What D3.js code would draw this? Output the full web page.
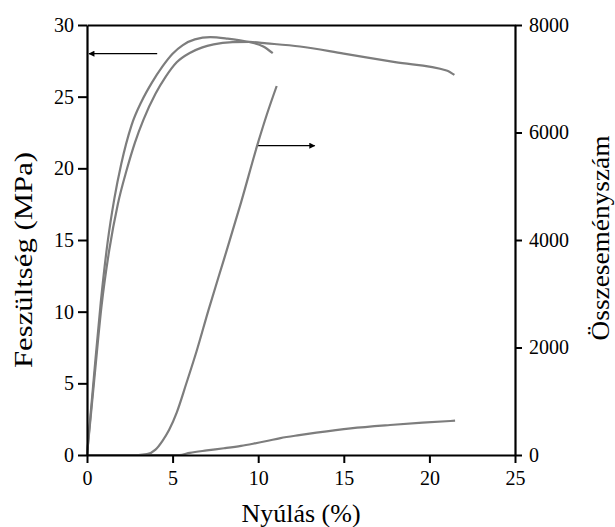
<!DOCTYPE html>
<html>
<head>
<meta charset="utf-8">
<script src="https://cdn.jsdelivr.net/npm/d3@7"></script>
<style>
  body { margin: 0; background: #fff; }
  svg text { font-family: "Liberation Serif", "Times New Roman", serif; fill: #000; }
</style>
</head>
<body>
<div id="chart"></div>
<script>
// stress-strain curves (left axis) and cumulative event count (right axis)

// strain (%) / stress (MPa) - sample ending at ~11 %
const stressA = [
  [0, 0], [0.4, 5.4], [0.8, 10.6], [1.2, 14.8], [1.6, 17.9], [2.0, 20.3],
  [2.6, 23.0], [3.2, 24.7], [3.8, 26.0], [4.4, 27.1], [5.0, 28.0],
  [5.6, 28.6], [6.3, 29.0], [7.2, 29.15], [8.2, 29.05], [9.3, 28.85],
  [10.3, 28.5], [10.85, 28.03]
];

// strain (%) / stress (MPa) - sample ending at ~21.5 %
const stressB = [
  [0, 0], [0.42, 5.2], [0.85, 10.4], [1.3, 14.3], [1.8, 17.5], [2.32, 19.9],
  [2.8, 21.8], [3.3, 23.4], [4.0, 25.2], [4.6, 26.4], [5.24, 27.4],
  [6.0, 28.05], [6.7, 28.42], [7.4, 28.65], [8.5, 28.8], [9.5, 28.82],
  [10.5, 28.72], [12.44, 28.5], [15, 28.0], [18, 27.41], [21, 26.83],
  [21.46, 26.52]
];

// strain (%) / cumulative event count - steep curve
const countA = [
  [0, 0], [3.0, 0], [3.5, 15], [4.0, 100], [4.4, 260], [4.8, 470],
  [5.24, 790], [5.8, 1330], [6.4, 1930], [7.1, 2700], [8.0, 3640],
  [9.0, 4700], [10.0, 5820], [10.5, 6330], [11.08, 6865]
];

// strain (%) / cumulative event count - slow curve
const countB = [
  [0, 0], [5.4, 0], [6.0, 40], [7.0, 85], [8.0, 125], [9.0, 170], [9.7, 210],
  [10.5, 260], [11.3, 315], [12.4, 370], [13.4, 415], [15.4, 495],
  [17.7, 558], [19.6, 601], [21.5, 638]
];

const xTicks = [0, 5, 10, 15, 20, 25];
const yTicks = [0, 5, 10, 15, 20, 25, 30];
const countTicks = [0, 2000, 4000, 6000, 8000];

// annotation arrows: [x from, x to, value]
const arrowStress = [4.1, 0.12, 28];
const arrowCount = [10.0, 13.3, 5755];

const width = 615, height = 527;
const margin = { top: 25, right: 100, bottom: 72, left: 87 };

const svg = d3.select('#chart')
  .append('svg')
  .attr('width', width)
  .attr('height', height);

const x = d3.scaleLinear().domain([0, 25]).range([margin.left, width - margin.right]);
const y = d3.scaleLinear().domain([0, 30]).range([height - margin.bottom, margin.top]);
const yc = d3.scaleLinear().domain([0, 8000]).range([height - margin.bottom, margin.top]);

const curveColor = '#7d7d7d';

// curves
const lineS = d3.line().x(d => x(d[0])).y(d => y(d[1])).curve(d3.curveMonotoneX);
const lineC = d3.line().x(d => x(d[0])).y(d => yc(d[1])).curve(d3.curveMonotoneX);

svg.selectAll('path.stress')
  .data([stressA, stressB])
  .enter()
  .append('path')
  .attr('class', 'stress')
  .attr('d', lineS)
  .attr('fill', 'none')
  .attr('stroke', curveColor)
  .attr('stroke-width', 2.2);

svg.selectAll('path.count')
  .data([countA, countB])
  .enter()
  .append('path')
  .attr('class', 'count')
  .attr('d', lineC)
  .attr('fill', 'none')
  .attr('stroke', curveColor)
  .attr('stroke-width', 2.2);

// axes
const tickFont = 20;

const axL = svg.append('g')
  .attr('transform', `translate(${margin.left},0)`)
  .call(d3.axisLeft(y).tickValues(yTicks).tickSize(9).tickSizeOuter(0).tickPadding(4));

const axR = svg.append('g')
  .attr('transform', `translate(${width - margin.right},0)`)
  .call(d3.axisRight(yc).tickValues(countTicks).tickFormat(d3.format('d'))
    .tickSize(7).tickSizeOuter(0).tickPadding(7));

const axB = svg.append('g')
  .attr('transform', `translate(0,${height - margin.bottom})`)
  .call(d3.axisBottom(x).tickValues(xTicks).tickSize(8).tickSizeOuter(0).tickPadding(8));

const axT = svg.append('g')
  .attr('transform', `translate(0,${margin.top})`)
  .call(d3.axisTop(x).tickValues([]).tickSizeOuter(0));

[axL, axR, axB, axT].forEach(g => {
  g.selectAll('path.domain').attr('stroke', '#000').attr('stroke-width', 2.2);
  g.selectAll('.tick line').attr('stroke', '#000').attr('stroke-width', 2);
  g.selectAll('.tick text')
    .attr('font-family', '"Liberation Serif", serif')
    .attr('font-size', tickFont)
    .attr('fill', '#000');
});

// arrows
const defs = svg.append('defs');
defs.append('marker')
  .attr('id', 'head')
  .attr('viewBox', '0 0 10 10')
  .attr('refX', 9).attr('refY', 5)
  .attr('markerWidth', 7).attr('markerHeight', 6)
  .attr('markerUnits', 'userSpaceOnUse')
  .attr('orient', 'auto')
  .append('path')
  .attr('d', 'M0,0L10,5L0,10Z')
  .attr('fill', '#000');

svg.append('line')
  .attr('x1', x(arrowStress[0])).attr('x2', x(arrowStress[1]))
  .attr('y1', y(arrowStress[2])).attr('y2', y(arrowStress[2]))
  .attr('stroke', '#000').attr('stroke-width', 1.1)
  .attr('marker-end', 'url(#head)');

svg.append('line')
  .attr('x1', x(arrowCount[0])).attr('x2', x(arrowCount[1]))
  .attr('y1', yc(arrowCount[2])).attr('y2', yc(arrowCount[2]))
  .attr('stroke', '#000').attr('stroke-width', 1.1)
  .attr('marker-end', 'url(#head)');

// axis titles
svg.append('text')
  .attr('x', (margin.left + width - margin.right) / 2)
  .attr('y', 522)
  .attr('text-anchor', 'middle')
  .attr('font-size', 26)
  .text('Nyúlás (%)');

svg.append('text')
  .attr('transform', 'translate(32,260) rotate(-90)')
  .attr('text-anchor', 'middle')
  .attr('font-size', 26)
  .attr('textLength', 216)
  .attr('lengthAdjust', 'spacingAndGlyphs')
  .text('Feszültség (MPa)');

svg.append('text')
  .attr('transform', 'translate(609,238) rotate(-90)')
  .attr('text-anchor', 'middle')
  .attr('font-size', 26)
  .attr('textLength', 205)
  .attr('lengthAdjust', 'spacingAndGlyphs')
  .text('Összeseményszám');
</script>
</body>
</html>
